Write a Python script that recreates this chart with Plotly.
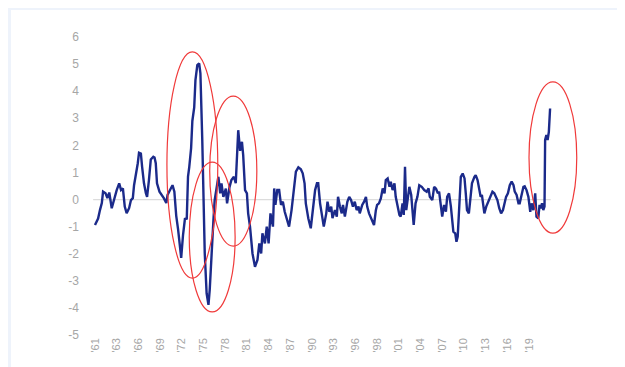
import plotly.graph_objects as go

# month index (0 = Jan 1961) and value
months = [0, 3, 5, 8, 11, 13, 17, 20, 23, 27, 30, 32, 35, 39, 42, 45, 48, 51, 55, 58,
          61, 63, 66, 69, 71, 74, 76, 79, 82, 84, 87, 90, 94, 96, 98, 100, 104, 108, 111, 115,
          117, 121, 125, 128, 131, 134, 137, 139, 142, 145, 148, 150, 152, 155, 157, 159, 160, 162, 165, 168,
          170, 173, 175, 177, 180, 183, 185, 188, 191, 193, 196, 199, 202, 204, 207, 211, 213, 217, 220, 224,
          227, 230, 231, 234, 237, 239, 242, 245, 247, 250, 254, 258, 262, 265, 268, 270, 274, 277, 280, 283,
          287, 289, 291, 294, 297, 300, 303, 306, 310, 313, 317, 320, 324, 328, 332, 335, 338, 340, 344, 348,
          351, 355, 358, 360, 363, 366, 369, 373, 375, 378, 381, 383, 387, 390, 392, 395, 398, 400, 403, 407,
          410, 413, 416, 419, 422, 425, 427, 431, 434, 437, 439, 442, 446, 450, 453, 455, 458, 461, 464, 467,
          469, 472, 475, 477, 480, 483, 485, 488, 491, 493, 496, 498, 500, 502, 505, 507, 510, 512, 514, 517,
          520, 523, 527, 531, 535, 538, 540, 544, 547, 550, 553, 555, 558, 560, 563, 566, 568, 571, 574, 576,
          578, 581, 583, 585, 588, 590, 593, 596, 598, 600, 603, 606, 608, 612, 614, 617, 620, 622, 624, 626,
          628, 631, 633, 636, 639, 641, 644, 647, 649, 652, 655, 658, 660, 663, 666, 669, 672, 675, 677, 680,
          683, 685, 688, 691, 693, 696, 699, 702, 704, 707, 710, 712, 715, 717, 719, 721, 723, 725, 726, 728,
          730, 732, 734]
values = [-0.94, -0.76, -0.70, -0.39, -0.13, 0.29, 0.23, 0.05, 0.26, -0.32, -0.06, 0.10, 0.35, 0.60, 0.35, 0.41, -0.26, -0.50, -0.32, -0.02,
          0.05, 0.53, 0.90, 1.34, 1.73, 1.70, 1.21, 0.60, 0.24, 0.10, 0.72, 1.48, 1.58, 1.55, 1.34, 0.60, 0.29, 0.17, 0.05, -0.13,
          0.17, 0.35, 0.53, 0.29, -0.60, -1.10, -1.80, -2.15, -1.30, -0.72, -0.70, 0.85, 1.20, 1.90, 2.90, 3.38, 3.40, 4.41, 4.96, 5.03,
          4.66, 2.20, -0.02, -1.98, -3.46, -3.89, -3.34, -1.74, -0.76, -0.02, 0.47, 0.84, 0.23, 0.60, 0.10, 0.40, -0.14, 0.47, 0.72, 0.84,
          0.60, 1.76, 2.56, 1.80, 2.13, 1.64, 0.35, 0.23, -0.51, -1.00, -1.99, -2.48, -2.23, -1.62, -1.99, -1.25, -1.62, -1.00, -1.62, -0.51,
          -1.00, 0.41, -0.20, 0.35, 0.35, -0.20, -0.08, -0.45, -0.76, -1.00, -0.39, 0.29, 1.03, 1.19, 1.12, 0.97, 0.60, -0.14, -0.69, -1.06,
          -0.45, 0.35, 0.60, 0.60, -0.14, -0.63, -1.00, -0.51, -0.08, -0.45, -0.26, -0.69, -0.39, -0.63, 0.10, -0.26, -0.51, -0.20, -0.63, -0.08,
          0.10, -0.02, -0.26, -0.08, -0.39, -0.26, -0.51, -0.20, -0.08, 0.10, -0.26, -0.51, -0.76, -0.94, -0.39, -0.20, -0.14, 0.04, 0.41, 0.23,
          0.72, 0.78, 0.47, 0.66, 0.35, 0.60, 0.10, -0.26, -0.57, -0.63, -0.14, -0.57, 1.21, -0.39, 0.29, 0.47, 0.17, -0.32, -0.94, -0.14,
          0.10, 0.53, 0.47, 0.35, 0.29, 0.41, 0.10, -0.02, 0.47, 0.40, 0.23, 0.29, -0.26, -0.63, -0.20, -0.45, 0.10, 0.23, -0.26, -0.63,
          -1.19, -1.25, -1.56, -1.37, -0.14, 0.84, 0.96, 0.78, 0.23, -0.39, -0.51, 0.10, 0.60, 0.84, 0.90, 0.72, 0.35, 0.10, 0.17, -0.26,
          -0.51, -0.26, -0.14, -0.02, 0.17, 0.29, 0.23, 0.04, -0.02, -0.32, -0.51, -0.39, -0.14, 0.10, 0.23, 0.53, 0.66, 0.53, 0.29, 0.17,
          -0.14, -0.14, 0.17, 0.47, 0.49, 0.35, 0.10, -0.45, -0.14, -0.39, 0.23, -0.63, -0.69, -0.20, -0.32, -0.14, -0.39, -0.26, 2.20, 2.38,
          2.20, 2.50, 3.36]

tick_months = [0, 35, 70, 105, 140, 175, 210, 245, 280, 315, 350, 385, 420, 455, 490, 525, 560, 595, 630, 665, 700]
tick_labels = ["'61", "'63", "'66", "'69", "'72", "'75", "'78", "'81", "'84", "'87", "'90",
               "'93", "'96", "'98", "'01", "'04", "'07", "'10", "'13", "'16", "'19"]
y_ticks = [6, 5, 4, 3, 2, 1, 0, -1, -2, -3, -4, -5]

# highlight ellipses (x0, x1, y0, y1) in data units
highlights = [(116, 198, -2.90, 5.45), (152, 226, -4.15, 1.38),
              (185, 261, -1.72, 3.82), (700, 777, -1.24, 4.34)]

# the page body adds an 8px offset, so the figure is sized to the remaining window
W, H = 617, 359
L, R, T, B = 72, 25, 29, 32
pw, ph = W - L - R, H - T - B

fig = go.Figure()
fig.add_trace(go.Scatter(x=months, y=values, mode="lines",
                         line=dict(color="#1b2a8a", width=2.4), showlegend=False))

shapes = [
    dict(type="rect", xref="paper", yref="paper",
         x0=(3 - L) / pw, x1=(W + 5 - L) / pw, y0=-(B + 5) / ph, y1=(ph + T - 2) / ph,
         fillcolor="white", line=dict(width=0), layer="below"),
    dict(type="line", xref="x", yref="y", x0=min(months) - 3, x1=max(months) + 1, y0=0, y1=0,
         line=dict(color="#dcdcdc", width=1.2), layer="below"),
]
for x0, x1, y0, y1 in highlights:
    shapes.append(dict(type="circle", xref="x", yref="y", x0=x0, x1=x1, y0=y0, y1=y1,
                       line=dict(color="#f03a3a", width=1.2)))

fig.update_layout(
    width=W, height=H,
    margin=dict(l=L, r=R, t=T, b=B),
    paper_bgcolor="#eef3fb",
    plot_bgcolor="white",
    shapes=shapes,
    font=dict(family="Liberation Sans, Arial, sans-serif", color="#a6a6a6"),
    xaxis=dict(range=[-24.2, 814.5], showgrid=False, zeroline=False, showline=False,
               tickmode="array", tickvals=tick_months, ticktext=tick_labels,
               tickangle=-90, tickfont=dict(size=11, color="#a6a6a6"), ticks=""),
    yaxis=dict(range=[-5, 6], showgrid=False, zeroline=False, showline=False,
               tickmode="array", tickvals=y_ticks, ticktext=[str(v) for v in y_ticks],
               tickfont=dict(size=12, color="#a6a6a6"), ticks=""),
)

fig.write_html("out.html")
